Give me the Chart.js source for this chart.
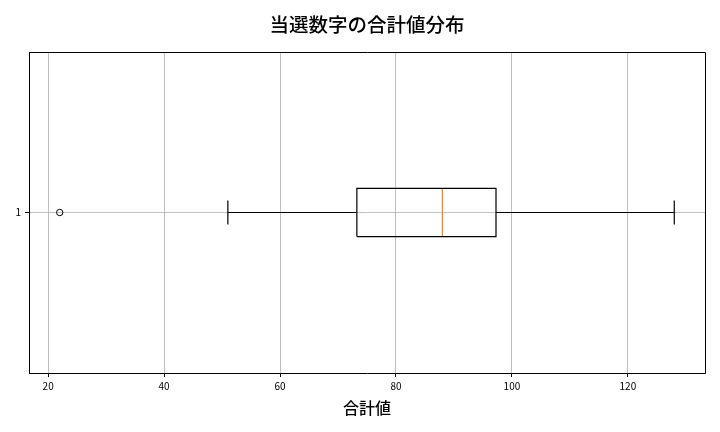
<!DOCTYPE html>
<html>
<head>
<meta charset="utf-8">
<script src="https://cdn.jsdelivr.net/npm/chart.js@4/dist/chart.umd.min.js"></script>
<style>
  body { margin: 0; background: #fff; }
  canvas { display: block; }
</style>
</head>
<body>
<canvas id="boxChart" width="720" height="432"></canvas>
<script>
// 箱ひげ図の統計値
const categories = ['1'];
const whiskerLow = [51];
const q1 = [73.25];
const median = [88];
const q3 = [97.25];
const whiskerHigh = [128];
const outliers = [[22]];
const xTicks = [20, 40, 60, 80, 100, 120];

// 見た目の設定
const BOX_HALF = 0.075;
const CAP_HALF = 0.0375;
const LINE_W = 1.2;
const FONT = '"Noto Sans CJK JP", "Noto Sans", sans-serif';

function buildDatasets() {
    const sets = [];
    categories.forEach((cat, i) => {
        const pos = i + 1;
        const base = { showLine: true, pointRadius: 0, borderWidth: LINE_W, fill: false, borderColor: '#000' };
        // 箱
        sets.push(Object.assign({}, base, {
            data: [
                { x: q1[i], y: pos - BOX_HALF }, { x: q3[i], y: pos - BOX_HALF },
                { x: q3[i], y: pos + BOX_HALF }, { x: q1[i], y: pos + BOX_HALF },
                { x: q1[i], y: pos - BOX_HALF }
            ]
        }));
        // ひげ
        sets.push(Object.assign({}, base, { data: [{ x: whiskerLow[i], y: pos }, { x: q1[i], y: pos }] }));
        sets.push(Object.assign({}, base, { data: [{ x: q3[i], y: pos }, { x: whiskerHigh[i], y: pos }] }));
        // キャップ
        sets.push(Object.assign({}, base, { data: [{ x: whiskerLow[i], y: pos - CAP_HALF }, { x: whiskerLow[i], y: pos + CAP_HALF }] }));
        sets.push(Object.assign({}, base, { data: [{ x: whiskerHigh[i], y: pos - CAP_HALF }, { x: whiskerHigh[i], y: pos + CAP_HALF }] }));
        // 中央値
        sets.push(Object.assign({}, base, { borderColor: '#ff7f0e', data: [{ x: median[i], y: pos - BOX_HALF }, { x: median[i], y: pos + BOX_HALF }] }));
        // 外れ値
        sets.push({
            showLine: false,
            data: outliers[i].map(v => ({ x: v, y: pos })),
            pointStyle: 'circle',
            pointRadius: 3.2,
            pointBorderWidth: 1,
            pointBorderColor: '#000',
            pointBackgroundColor: 'rgba(0,0,0,0)'
        });
    });
    return sets;
}

// 上と右の枠線
const framePlugin = {
    id: 'frame',
    afterDatasetsDraw(chart) {
        const { ctx, chartArea: a } = chart;
        ctx.save();
        ctx.strokeStyle = '#000';
        ctx.lineWidth = 1;
        ctx.beginPath();
        ctx.moveTo(a.left, a.top + 0.5);
        ctx.lineTo(a.right + 0.5, a.top + 0.5);
        ctx.lineTo(a.right + 0.5, a.bottom);
        ctx.stroke();
        ctx.restore();
    }
};

const allValues = [].concat(whiskerLow, whiskerHigh, ...outliers);
const vMin = Math.min(...allValues);
const vMax = Math.max(...allValues);
const margin = (vMax - vMin) * 0.05;

new Chart(document.getElementById('boxChart'), {
    type: 'scatter',
    data: { datasets: buildDatasets() },
    options: {
        responsive: false,
        animation: false,
        devicePixelRatio: 1,
        layout: { padding: { left: 0, right: 15, top: 0, bottom: 0 } },
        plugins: {
            legend: { display: false },
            tooltip: { enabled: false },
            title: {
                display: true,
                fullSize: false,
                text: '当選数字の合計値分布',
                color: '#000',
                font: { family: FONT, size: 19.5, weight: 500, lineHeight: 1.2 },
                padding: { top: 13, bottom: 15.6 }
            }
        },
        scales: {
            x: {
                type: 'linear',
                min: vMin - margin,
                max: vMax + margin,
                afterBuildTicks: axis => { axis.ticks = xTicks.map(v => ({ value: v })); },
                afterFit: axis => { axis.height = 59; },
                grid: { color: '#b0b0b0', lineWidth: 0.8, tickColor: '#000', tickLength: 4, tickWidth: 1 },
                border: { display: true, color: '#000', width: 1 },
                ticks: { color: '#000', font: { family: FONT, size: 10 }, padding: 3, maxRotation: 0 },
                title: {
                    display: true,
                    text: '合計値',
                    color: '#000',
                    font: { family: FONT, size: 16, weight: 500, lineHeight: 1.2 },
                    padding: { top: 0, bottom: 14.5 }
                }
            },
            y: {
                type: 'linear',
                min: 0.5,
                max: 1.5,
                afterBuildTicks: axis => { axis.ticks = categories.map((c, i) => ({ value: i + 1 })); },
                afterFit: axis => { axis.width = 29; },
                grid: { color: '#b0b0b0', lineWidth: 0.8, tickColor: '#000', tickLength: 4, tickWidth: 1 },
                border: { display: true, color: '#000', width: 1 },
                ticks: {
                    color: '#000',
                    font: { family: FONT, size: 10 },
                    padding: 4,
                    callback: v => categories[Math.round(v) - 1] || ''
                }
            }
        }
    },
    plugins: [framePlugin]
});
</script>
</body>
</html>
